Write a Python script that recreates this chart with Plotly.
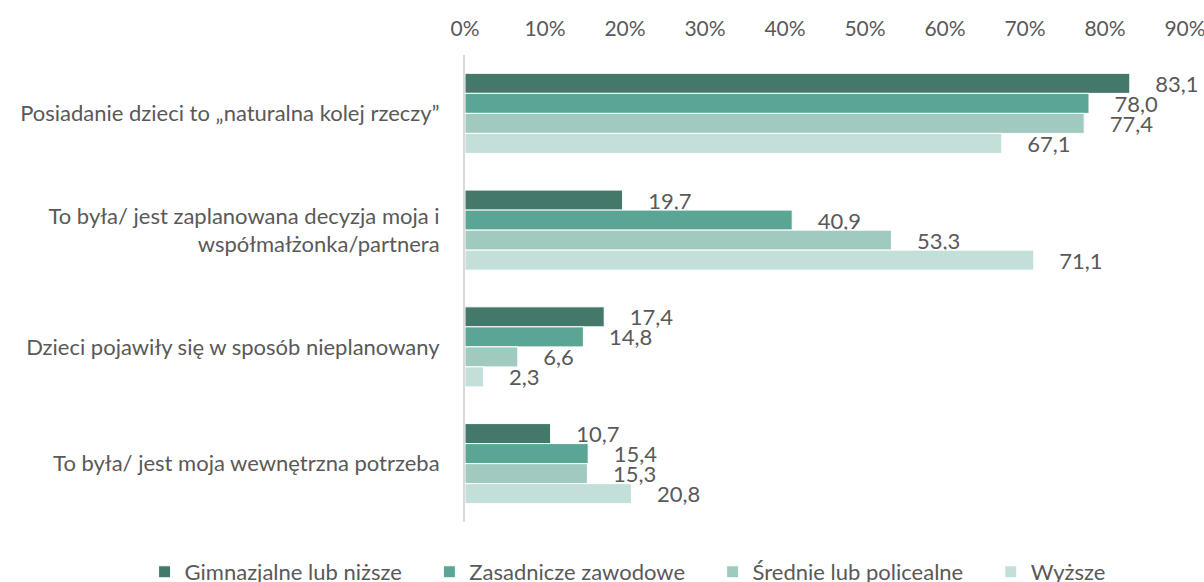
import plotly.graph_objects as go

categories = [
    "Posiadanie dzieci to „naturalna kolej rzeczy”",
    "To była/ jest zaplanowana decyzja moja i<br>współmałżonka/partnera",
    "Dzieci pojawiły się w sposób nieplanowany",
    "To była/ jest moja wewnętrzna potrzeba",
]
series_names = ["Gimnazjalne lub niższe", "Zasadnicze zawodowe", "Średnie lub policealne", "Wyższe"]
gimnazjalne = [83.1, 19.7, 17.4, 10.7]
zasadnicze = [78.0, 40.9, 14.8, 15.4]
srednie = [77.4, 53.3, 6.6, 15.3]
wyzsze = [67.1, 71.1, 2.3, 20.8]
colors = ["#43786A", "#5BA595", "#A0CAC0", "#C3DFD9"]
tick_vals = [0, 10, 20, 30, 40, 50, 60, 70, 80, 90]
tick_text = [f"{v}%" for v in tick_vals]

FONT = "Lato"
GREY = "#595959"
FS = 22
PAD = " " * 4

fig = go.Figure()
for name, vals, col in zip(series_names, [gimnazjalne, zasadnicze, srednie, wyzsze], colors):
    fig.add_trace(go.Bar(
        name=name + PAD, y=categories, x=vals, orientation="h",
        marker=dict(color=col, line=dict(color="white", width=1)),
        text=["    " + f"{v:.1f}".replace(".", ",") for v in vals],
        textposition="outside", constraintext="none", cliponaxis=False,
        textfont=dict(family=FONT, size=FS, color=GREY),
    ))

fig.update_layout(
    barmode="group", bargap=0.314, bargroupgap=0,
    width=1204, height=582,
    margin=dict(l=465, r=19, t=55, b=60, autoexpand=False),
    plot_bgcolor="white", paper_bgcolor="white",
    font=dict(family=FONT, size=FS, color=GREY),
    legend=dict(orientation="h", x=-0.445, xanchor="left", y=-0.107, yanchor="middle",
                font=dict(family=FONT, size=FS, color=GREY), itemwidth=30, traceorder="normal"),
    xaxis=dict(side="top", range=[0, 90], tickvals=tick_vals, ticktext=tick_text,
               showgrid=False, zeroline=False, showline=False, ticks="", automargin=False,
               ticklabeloverflow="allow", ticklabelstandoff=14,
               tickfont=dict(family=FONT, size=21, color=GREY)),
    yaxis=dict(autorange="reversed", showline=True, linecolor="#D9D9D9", linewidth=2,
               ticks="", ticklabelstandoff=19, automargin=False,
               tickfont=dict(family=FONT, size=FS, color=GREY)),
)

fig.write_html("out.html", config={"displayModeBar": False},
               post_script="document.body.style.margin='0';document.body.style.overflow='hidden';")
